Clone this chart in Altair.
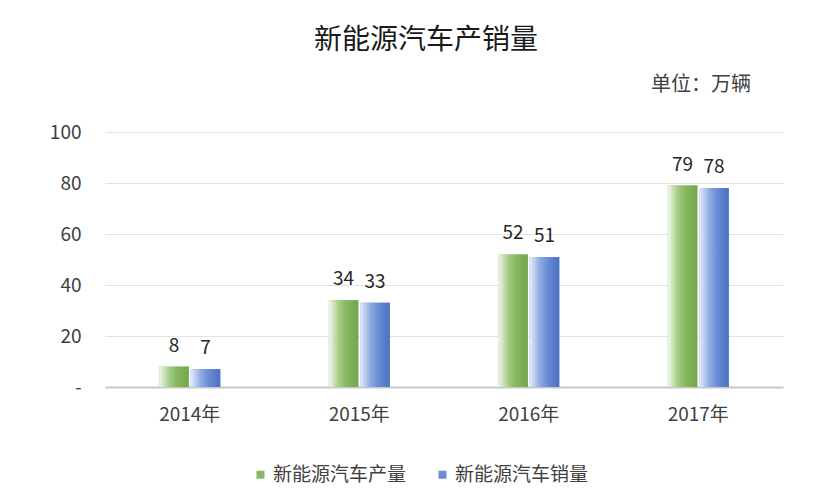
import altair as alt
import pandas as pd

years = ["2014年", "2015年", "2016年", "2017年"]
production = [8, 34, 52, 79]
sales = [7, 33, 51, 78]
series = ["新能源汽车产量", "新能源汽车销量"]

rows = []
for i, y in enumerate(years):
    rows.append({"year": y, "series": series[0], "value": production[i]})
    rows.append({"year": y, "series": series[1], "value": sales[i]})
df = pd.DataFrame(rows)

FONT = "Noto Sans CJK SC"

green_grad = alt.Gradient(
    gradient="linear", x1=0, x2=1, y1=0, y2=0,
    stops=[alt.GradientStop(offset=0, color="#f3f8ee"),
           alt.GradientStop(offset=0.35, color="#a3cb84"),
           alt.GradientStop(offset=0.6, color="#86b85f"),
           alt.GradientStop(offset=1, color="#74a64c")])
blue_grad = alt.Gradient(
    gradient="linear", x1=0, x2=1, y1=0, y2=0,
    stops=[alt.GradientStop(offset=0, color="#e6ebf8"),
           alt.GradientStop(offset=0.35, color="#8eaae3"),
           alt.GradientStop(offset=0.6, color="#6a8dd5"),
           alt.GradientStop(offset=1, color="#4a70c2")])

x_enc = alt.X("year:N", sort=years, title=None,
              scale=alt.Scale(paddingInner=0.64, paddingOuter=0.32),
              axis=alt.Axis(labelAngle=0, labelFont=FONT, labelFontSize=19,
                            labelColor="#404040", labelPadding=18, ticks=False,
                            domainColor="#c8c8c8", domainWidth=2))
xo_enc = alt.XOffset("series:N", sort=series,
                     scale=alt.Scale(paddingInner=0.06))
y_enc = alt.Y("value:Q", title=None,
              scale=alt.Scale(domain=[0, 100]),
              axis=alt.Axis(values=[0, 20, 40, 60, 80, 100],
                            labelExpr="datum.value == 0 ? '-' : datum.label",
                            labelFont=FONT, labelFontSize=19, labelColor="#404040",
                            labelPadding=24, ticks=False, domain=False,
                            gridColor="#e3e3e3", gridWidth=1))

base = alt.Chart(df).encode(x=x_enc, xOffset=xo_enc, y=y_enc)

solid = base.mark_bar().encode(
    color=alt.Color("series:N", sort=series, title=None,
                    scale=alt.Scale(domain=series, range=["#8ab866", "#6b8fd6"]),
                    legend=alt.Legend(orient="none", legendX=146, legendY=333,
                                      direction="horizontal", symbolType="square",
                                      symbolSize=64, symbolStrokeWidth=0,
                                      labelFont=FONT, labelFontSize=19,
                                      labelColor="#404040", columnPadding=26,
                                      labelOffset=3, labelLimit=300))
)

g_layer = base.transform_filter(alt.datum.series == series[0]).mark_bar(fill=green_grad)
b_layer = base.transform_filter(alt.datum.series == series[1]).mark_bar(fill=blue_grad)

labels = base.mark_text(dy=-21, font=FONT, fontSize=19, color="#262626").encode(
    text=alt.Text("value:Q"))

unit_df = pd.DataFrame({"t": ["单位：万辆"]})
unit = alt.Chart(unit_df).mark_text(font=FONT, fontSize=20, color="#404040",
                                    align="right", baseline="middle").encode(
    x=alt.value(646), y=alt.value(-47), text="t:N")

title_df = pd.DataFrame({"t": ["新能源汽车产销量"]})
title = alt.Chart(title_df).mark_text(font=FONT, fontSize=28, color="#1a1a1a",
                                      align="center", baseline="middle").encode(
    x=alt.value(321), y=alt.value(-91), text="t:N")

chart = alt.layer(solid, g_layer, b_layer, labels, unit, title).properties(
    width=678, height=255,
    autosize=alt.AutoSizeParams(type="none"),
    padding={"left": 97, "top": 124, "right": 37, "bottom": 98},
).configure_view(stroke=None).configure_axis(labelFontWeight="normal")

chart.save("out.html", embed_options={"renderer": "svg", "actions": False})
